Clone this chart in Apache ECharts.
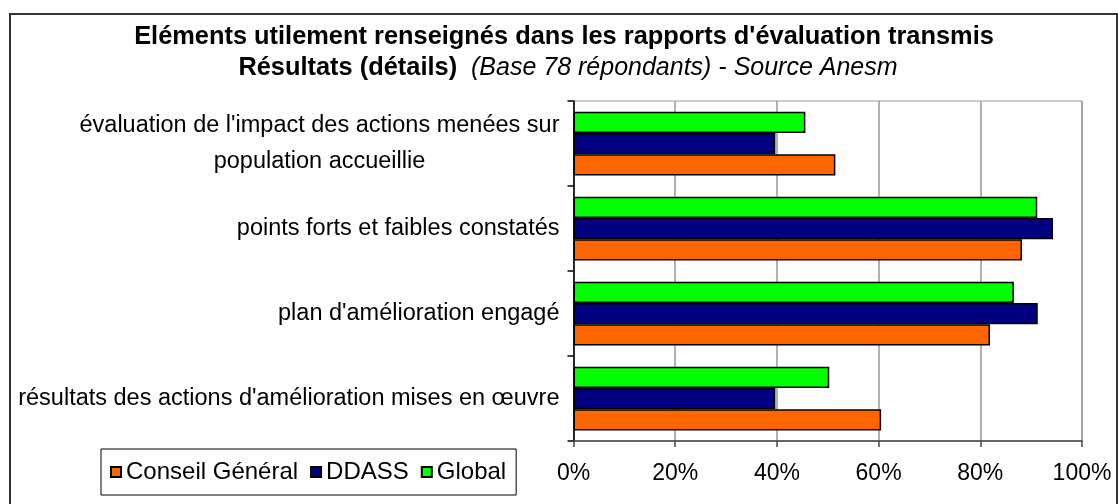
<!DOCTYPE html>
<html>
<head>
<meta charset="utf-8">
<script src="https://cdn.jsdelivr.net/npm/echarts@6/dist/echarts.min.js"></script>
<style>
html,body{margin:0;padding:0;background:#fff;}
#chart{width:1118px;height:504px;}
</style>
</head>
<body>
<div id="chart"></div>
<script>
const titleLine1 = "Eléments utilement renseignés dans les rapports d'évaluation transmis";
const titleLine2Bold = "Résultats (détails)";
const titleLine2Italic = "(Base 78 répondants) - Source Anesm";
const categories = [
  "évaluation de l'impact des actions menées sur population accueillie",
  "points forts et faibles constatés",
  "plan d'amélioration engagé",
  "résultats des actions d'amélioration mises en œuvre"
];
const seriesNames = ["Conseil Général", "DDASS", "Global"];
const conseilGeneral = [51.5, 88.2, 81.9, 60.5];
const ddass = [39.7, 94.3, 91.3, 39.7];
const globalVals = [45.6, 91.2, 86.6, 50.3];
const xTicks = [0, 20, 40, 60, 80, 100];

const FONT = "'Liberation Sans', Arial, sans-serif";
const chart = echarts.init(document.getElementById('chart'), null, {renderer: 'canvas'});

const barStyle = (color) => ({color: color, borderColor: '#000', borderWidth: 1.5});

chart.setOption({
  backgroundColor: '#fff',
  animation: false,
  textStyle: {fontFamily: FONT},
  graphic: [
    {type: 'rect', shape: {x: 10, y: 14, width: 1107, height: 500}, style: {fill: 'none', stroke: '#333', lineWidth: 2}, silent: true},
    {type: 'text', x: 564, y: 37, style: {text: titleLine1, font: "bold 25.4px 'Liberation Sans', Arial, sans-serif", fill: '#000', align: 'center', verticalAlign: 'middle'}},
    {type: 'text', x: 568, y: 68, style: {
      text: '{b|' + titleLine2Bold + '}{i|  ' + titleLine2Italic + '}',
      align: 'center', verticalAlign: 'middle',
      rich: {
        b: {fontFamily: FONT, fontWeight: 'bold', fontSize: 25.4, fill: '#000', color: '#000'},
        i: {fontFamily: FONT, fontStyle: 'italic', fontSize: 25, fill: '#000', color: '#000'}
      }
    }}
  ],
  legend: {
    data: seriesNames,
    left: 101, top: 449,
    orient: 'horizontal',
    padding: [11, 10, 11, 9],
    itemGap: 12,
    itemWidth: 10, itemHeight: 10,
    icon: 'rect',
    borderColor: '#000', borderWidth: 1,
    textStyle: {fontFamily: FONT, fontSize: 24, color: '#000'}
  },
  grid: {left: 573.5, right: 36, top: 101, bottom: 63, show: true, borderColor: '#999', borderWidth: 1, containLabel: false, outerBoundsMode: 'none'},
  xAxis: {
    type: 'value', min: 0, max: 100, interval: 20,
    axisLine: {show: true, lineStyle: {color: '#444', width: 1.5}},
    axisTick: {show: true, length: 6, lineStyle: {color: '#444', width: 1.5}},
    splitLine: {show: true, lineStyle: {color: '#999', width: 1.5}},
    axisLabel: {fontFamily: FONT, fontSize: 23, color: '#000', margin: 21, formatter: (v) => v + '%'}
  },
  yAxis: {
    type: 'category', inverse: true, data: categories,
    axisLine: {show: true, lineStyle: {color: '#000', width: 1.5}},
    axisTick: {show: true, length: 6, lineStyle: {color: '#000', width: 1.5}},
    splitLine: {show: false},
    axisLabel: {
      fontFamily: FONT, fontSize: 23.5, color: '#000', margin: 14,
      formatter: function (v, i) {
        if (i === 0) {
          return '{c|évaluation de l\'impact des actions menées sur}\n{c|population accueillie}';
        }
        return v;
      },
      rich: {
        c: {width: 480, align: 'center', fontFamily: FONT, fontSize: 23.5, lineHeight: 36, color: '#000'}
      }
    }
  },
  series: [
    {name: seriesNames[2], type: 'bar', data: globalVals, itemStyle: barStyle('#00FF00'), barGap: '0%', barCategoryGap: '25%'},
    {name: seriesNames[1], type: 'bar', data: ddass, itemStyle: barStyle('#000080'), barGap: '0%', barCategoryGap: '25%'},
    {name: seriesNames[0], type: 'bar', data: conseilGeneral, itemStyle: barStyle('#FF6600'), barGap: '0%', barCategoryGap: '25%'}
  ]
});
</script>
</body>
</html>
